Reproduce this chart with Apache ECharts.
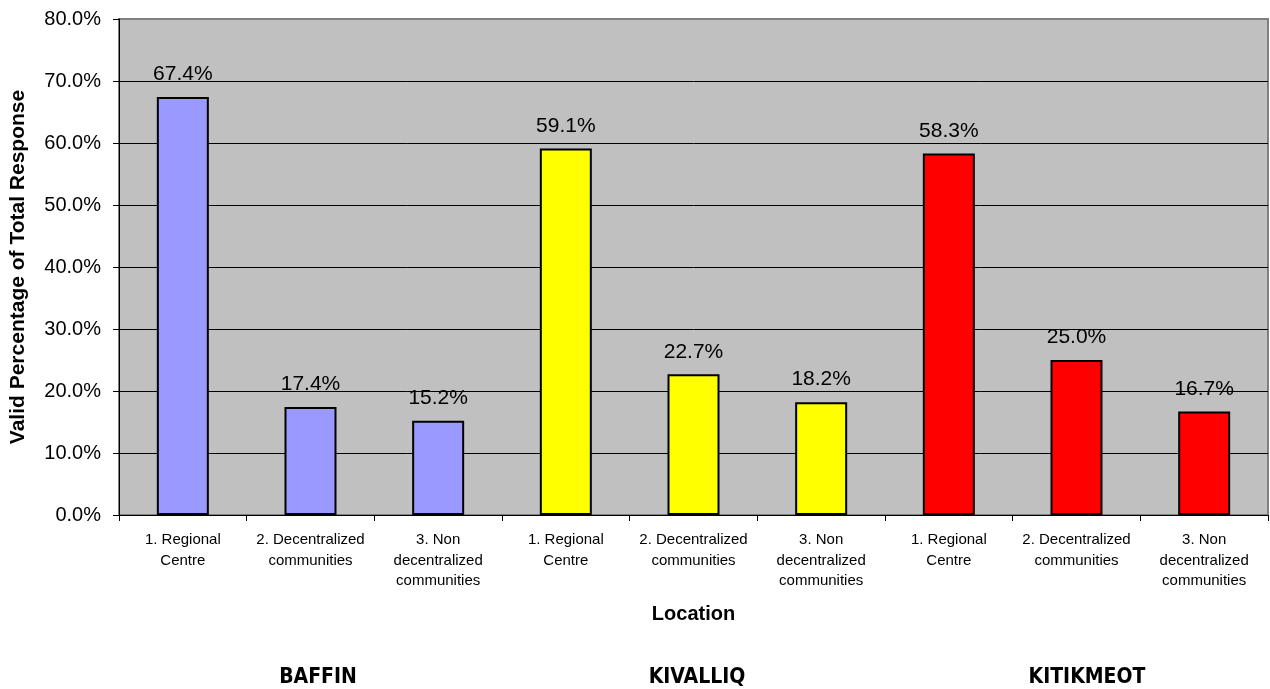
<!DOCTYPE html>
<html>
<head>
<meta charset="utf-8">
<title>Valid Percentage of Total Response by Location</title>
<script src="https://cdn.jsdelivr.net/npm/echarts@6/dist/echarts.min.js"></script>
<style>
  html, body { margin: 0; padding: 0; background: #ffffff; }
  #chart { width: 1270px; height: 689px; }
</style>
</head>
<body>
<div id="chart"></div>
<script>
// Location categories (three per region)
const categories = [
  '1. Regional\nCentre', '2. Decentralized\ncommunities', '3. Non\ndecentralized\ncommunities',
  '1. Regional\nCentre', '2. Decentralized\ncommunities', '3. Non\ndecentralized\ncommunities',
  '1. Regional\nCentre', '2. Decentralized\ncommunities', '3. Non\ndecentralized\ncommunities'
];
// Valid percentage of total response
const values = [67.4, 17.4, 15.2, 59.1, 22.7, 18.2, 58.3, 25.0, 16.7];
// Regions, each covering three consecutive categories
const regions = ['BAFFIN', 'KIVALLIQ', 'KITIKMEOT'];
const regionColors = ['#9999FF', '#FFFF00', '#FF0000'];
const yTicks = { min: 0, max: 80, interval: 10 };

const chart = echarts.init(document.getElementById('chart'), null, { renderer: 'canvas' });

const barData = values.map((v, i) => ({
  value: v,
  itemStyle: { color: regionColors[Math.floor(i / 3)] }
}));

// Gridlines are black; the top one coincides with the grey plot frame
const tickCount = (yTicks.max - yTicks.min) / yTicks.interval + 1;
const splitColors = Array.from({ length: tickCount }, (_, i) => (i === tickCount - 1 ? '#808080' : '#000'));

const gridLeft = 119, gridRight = 2, gridTop = 19, gridBottom = 174;
const regionLabelX = [318, 697, 1087];

const option = {
  animation: false,
  backgroundColor: '#ffffff',
  textStyle: { fontFamily: 'Arial, "Liberation Sans", sans-serif' },
  grid: {
    left: gridLeft, right: gridRight, top: gridTop, bottom: gridBottom,
    show: true, backgroundColor: '#C0C0C0', borderColor: '#808080', borderWidth: 2
  },
  xAxis: {
    type: 'category',
    data: categories,
    boundaryGap: true,
    name: 'Location',
    nameLocation: 'middle',
    nameGap: 89,
    nameTextStyle: { fontSize: 20, fontWeight: 'bold', color: '#000' },
    axisLine: { show: true, lineStyle: { color: '#000', width: 1 } },
    axisTick: { show: true, length: 6, lineStyle: { color: '#000' } },
    axisLabel: {
      interval: 0, margin: 15, fontSize: 15, lineHeight: 20.5, color: '#000', align: 'center'
    },
    splitLine: { show: false }
  },
  yAxis: {
    type: 'value',
    min: yTicks.min, max: yTicks.max, interval: yTicks.interval,
    name: 'Valid Percentage of Total Response',
    nameLocation: 'middle',
    nameGap: 90,
    nameTextStyle: { fontSize: 21, fontWeight: 'bold', color: '#000' },
    axisLine: { show: true, lineStyle: { color: '#000', width: 1 } },
    axisTick: { show: true, length: 6, lineStyle: { color: '#000' } },
    axisLabel: {
      margin: 18, fontSize: 20, color: '#000',
      formatter: v => v.toFixed(1) + '%'
    },
    splitLine: { show: true, lineStyle: { color: splitColors, width: 1 } }
  },
  series: [{
    type: 'bar',
    data: barData,
    barWidth: 52,
    itemStyle: { borderColor: '#000', borderWidth: 2 },
    label: {
      show: true, position: 'top', distance: 12,
      fontSize: 21, color: '#000',
      formatter: p => p.value.toFixed(1) + '%'
    }
  }],
  graphic: regions.map((r, i) => ({
    type: 'text',
    x: regionLabelX[i],
    y: 678,
    style: {
      text: r,
      x: 0, y: 0,
      align: 'center', verticalAlign: 'middle',
      fontFamily: '"Liberation Sans Narrow", "DejaVu Sans Condensed", sans-serif',
      fontWeight: 'bold', fontSize: 21, fill: '#000'
    }
  }))
};

chart.setOption(option);
</script>
</body>
</html>
